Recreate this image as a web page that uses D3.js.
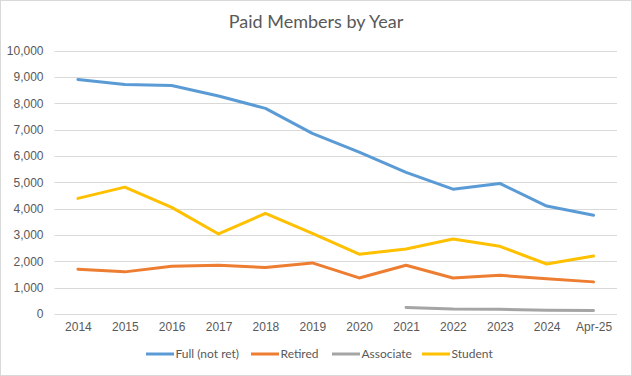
<!DOCTYPE html>
<html>
<head>
<meta charset="utf-8">
<script src="https://cdn.jsdelivr.net/npm/d3@7"></script>
<style>
  body { margin: 0; background: #fff; }
  svg { display: block; font-family: Lato, "Liberation Sans", sans-serif; }
</style>
</head>
<body>
<svg id="chart" width="632" height="376"></svg>
<script>
const years = ["2014", "2015", "2016", "2017", "2018", "2019", "2020", "2021", "2022", "2023", "2024", "Apr-25"]
const fullNotRet = [8910, 8720, 8680, 8280, 7810, 6860, 6150, 5380, 4740, 4960, 4100, 3750]
const retired = [1700, 1600, 1810, 1850, 1770, 1940, 1370, 1850, 1370, 1470, 1340, 1220]
const associate = [null, null, null, null, null, null, null, 250, 190, 180, 140, 130]
const student = [4390, 4820, 4050, 3040, 3820, 3060, 2270, 2470, 2850, 2570, 1900, 2200]
const yTicks = [0, 1000, 2000, 3000, 4000, 5000, 6000, 7000, 8000, 9000, 10000]

const series = [
  { name: "Full (not ret)", values: fullNotRet, color: "#5B9BD5" },
  { name: "Retired", values: retired, color: "#ED7D31" },
  { name: "Associate", values: associate, color: "#A5A5A5" },
  { name: "Student", values: student, color: "#FFC000" },
]

const [WIDTH, HEIGHT] = [632, 376]
const [PLOT_LEFT, PLOT_RIGHT] = [54.5, 617]
const [PLOT_TOP, PLOT_BOTTOM] = [50.7, 314]

const svg = d3.select("#chart")

// chart border
svg.append("rect")
  .attr("x", 0.5).attr("y", 0.5)
  .attr("width", WIDTH - 1).attr("height", HEIGHT - 1)
  .attr("fill", "#fff")
  .attr("stroke", "#d9d9d9")

svg.append("text")
  .attr("x", 316).attr("y", 28)
  .attr("text-anchor", "middle")
  .attr("font-size", 18)
  .attr("fill", "#595959")
  .text("Paid Members by Year")

const x = d3.scalePoint().domain(years).range([PLOT_LEFT, PLOT_RIGHT]).padding(0.5)
const y = d3.scaleLinear().domain([0, 10000]).range([PLOT_BOTTOM, PLOT_TOP])

// gridlines
svg.append("g")
  .selectAll("line")
  .data(yTicks)
  .enter()
  .append("line")
  .attr("x1", PLOT_LEFT).attr("x2", PLOT_RIGHT)
  .attr("y1", (d) => Math.round(y(d)) + 0.5)
  .attr("y2", (d) => Math.round(y(d)) + 0.5)
  .attr("stroke", "#d9d9d9")

// y axis labels
const yAxis = svg.append("g")
  .attr("transform", `translate(${PLOT_LEFT - 5},0)`)
  .call(d3.axisLeft(y).tickValues(yTicks).tickSize(0).tickPadding(6).tickFormat(d3.format(",")))
yAxis.select(".domain").remove()
yAxis.selectAll("text").attr("fill", "#595959").attr("font-size", 12).attr("font-family", null)

// x axis labels
const xAxis = svg.append("g")
  .attr("transform", `translate(0,${PLOT_BOTTOM})`)
  .call(d3.axisBottom(x).tickSize(0).tickPadding(8))
xAxis.select(".domain").remove()
xAxis.selectAll("text").attr("fill", "#595959").attr("font-size", 12).attr("font-family", null)

// series lines
const line = d3.line()
  .defined((d) => d != null)
  .x((d, i) => x(years[i]))
  .y((d) => y(d))

svg.append("g")
  .selectAll("path")
  .data(series)
  .enter()
  .append("path")
  .attr("d", (s) => line(s.values))
  .attr("fill", "none")
  .attr("stroke", (s) => s.color)
  .attr("stroke-width", 3)
  .attr("stroke-linejoin", "round")
  .attr("stroke-linecap", "round")

// legend
const legendX = [146, 251, 332, 422]
const legend = svg.append("g")
  .selectAll("g")
  .data(series)
  .enter()
  .append("g")
  .attr("transform", (s, i) => `translate(${legendX[i]},354)`)
legend.append("line")
  .attr("x1", 0).attr("x2", 28)
  .attr("stroke", (s) => s.color)
  .attr("stroke-width", 3)
legend.append("text")
  .attr("x", 29.5).attr("y", 4)
  .attr("font-size", 12)
  .attr("fill", "#595959")
  .text((s) => s.name)
</script>
</body>
</html>
